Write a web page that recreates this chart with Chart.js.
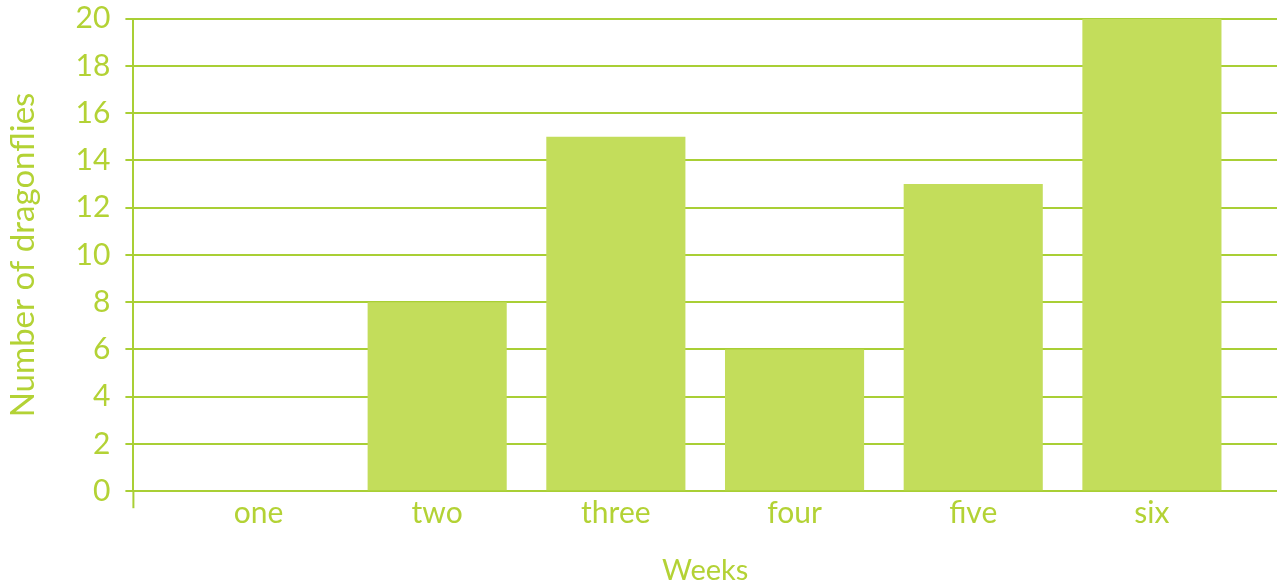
<!DOCTYPE html>
<html>
<head>
<meta charset="utf-8">
<script src="https://cdn.jsdelivr.net/npm/chart.js@4"></script>
<style>
    html, body { margin: 0; padding: 0; background: #ffffff; }
    #wrap { width: 1279px; height: 583px; }
</style>
</head>
<body>
<div id="wrap"><canvas id="dragonflyChart"></canvas></div>
<script>
// Chart data
const weeks = ['one', 'two', 'three', 'four', 'five', 'six'];
const dragonflies = [0, 8, 15, 6, 13, 20];
const yTicks = [0, 2, 4, 6, 8, 10, 12, 14, 16, 18, 20];

const GREEN_TEXT = '#b3d235';
const GREEN_LINE = '#a9cf35';
const GREEN_BAR = '#c3dd5b';
const FONT = 'Lato, "DejaVu Sans", sans-serif';

/**
 * Little extension of the y axis line below the zero line
 */
const axisStub = {
    id: 'axisStub',
    beforeDatasetsDraw(chart) {
        const c = chart.ctx;
        const x = chart.chartArea.left;
        const y0 = chart.scales.y.getPixelForValue(0);
        c.save();
        c.strokeStyle = GREEN_LINE;
        c.lineWidth = 2;
        c.beginPath();
        c.moveTo(x, y0 - 1);
        c.lineTo(x, y0 + 17);
        c.stroke();
        c.restore();
    }
};

const ctx = document.getElementById('dragonflyChart');

new Chart(ctx, {
    type: 'bar',
    data: {
        datasets: [{
            data: weeks.map((w, i) => ({ x: i, y: dragonflies[i] })),
            backgroundColor: GREEN_BAR,
            borderWidth: 0,
            barPercentage: 0.9,
            categoryPercentage: 0.865
        }]
    },
    options: {
        responsive: true,
        maintainAspectRatio: false,
        animation: false,
        layout: {
            padding: { top: 0, right: 2, left: 4, bottom: 0 }
        },
        plugins: {
            legend: { display: false },
            tooltip: { enabled: false }
        },
        scales: {
            x: {
                type: 'linear',
                min: -0.7,
                max: weeks.length - 0.3,
                offset: false,
                afterBuildTicks: function(axis) {
                    axis.ticks = weeks.map((w, i) => ({ value: i }));
                },
                grid: { display: false },
                border: { display: false },
                ticks: {
                    padding: 3,
                    color: GREEN_TEXT,
                    font: { family: FONT, size: 30, lineHeight: 0.733 },
                    autoSkip: false,
                    maxRotation: 0,
                    callback: function(value) {
                        return weeks[value];
                    }
                },
                title: {
                    display: true,
                    text: 'Weeks',
                    color: GREEN_TEXT,
                    font: { family: FONT, size: 29 },
                    padding: { top: 26, bottom: -5 }
                }
            },
            y: {
                min: 0,
                max: 20,
                afterBuildTicks: function(axis) {
                    axis.ticks = yTicks.map(v => ({ value: v }));
                },
                grid: {
                    color: GREEN_LINE,
                    lineWidth: 2,
                    tickLength: 8
                },
                border: { color: GREEN_LINE, width: 2 },
                ticks: {
                    padding: 15,
                    color: GREEN_TEXT,
                    font: { family: FONT, size: 30, lineHeight: 0.25 }
                },
                title: {
                    display: true,
                    text: 'Number of dragonflies',
                    color: GREEN_TEXT,
                    font: { family: FONT, size: 33 },
                    padding: { top: 0, bottom: 17 }
                }
            }
        }
    },
    plugins: [axisStub]
});
</script>
</body>
</html>
